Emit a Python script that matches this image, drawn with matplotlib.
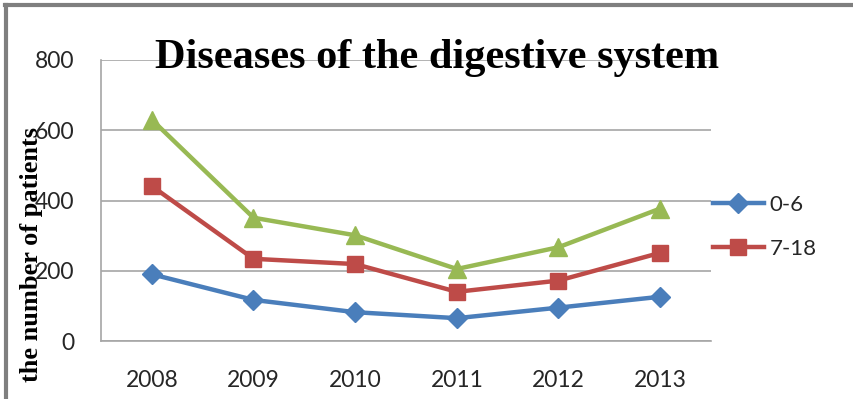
import matplotlib
matplotlib.use("Agg")
import matplotlib.pyplot as plt
from matplotlib.lines import Line2D

# Patients with diseases of the digestive system, by age group
years = ["2008", "2009", "2010", "2011", "2012", "2013"]
age_0_6 = [190, 117, 82, 65, 95, 126]
age_7_18 = [441, 234, 219, 140, 172, 251]
all_ages = [630, 351, 301, 205, 267, 377]
y_ticks = [0, 200, 400, 600, 800]

BLUE = "#4A7EBB"
RED = "#BE4B48"
GREEN = "#98B954"
GRID = "#A6A6A6"
TEXT = "#262626"
SANS = ["Lato", "DejaVu Sans"]
SERIF = ["Liberation Serif", "DejaVu Serif"]

W, H = 854, 399
fig = plt.figure(figsize=(W / 100, H / 100), dpi=100)
fig.patch.set_facecolor("white")

ax = fig.add_axes([101 / W, 1 - 341 / H, 610 / W, 281 / H])
x = list(range(len(years)))

ax.plot(x, age_0_6, color=BLUE, lw=3.2, marker="D", ms=10,
        label="0-6", zorder=3, solid_joinstyle="round")
ax.plot(x, age_7_18, color=RED, lw=3.2, marker="s", ms=12,
        label="7-18", zorder=3, solid_joinstyle="round")
ax.plot(x, all_ages, color=GREEN, lw=3.2, marker="^", ms=13,
        zorder=3, solid_joinstyle="round")

ax.set_xlim(-0.5, len(years) - 0.5)
ax.set_ylim(0, 800)
ax.set_yticks(y_ticks)
ax.set_xticks(x)
ax.set_xticklabels(years)

for lab in ax.get_xticklabels() + ax.get_yticklabels():
    lab.set_fontfamily(SANS)
    lab.set_fontsize(16.5)
    lab.set_color(TEXT)
ax.tick_params(axis="x", length=0, pad=21)
ax.tick_params(axis="y", length=0, pad=19)

ax.grid(axis="y", color=GRID, lw=1.2, zorder=0)
for side in ("top", "right"):
    ax.spines[side].set_visible(False)
for side in ("left", "bottom"):
    ax.spines[side].set_color(GRID)
    ax.spines[side].set_linewidth(1.2)

handles, labels = ax.get_legend_handles_labels()
leg = fig.legend(handles, labels, loc="upper left",
                 bbox_to_anchor=(704 / W, 1 - 186 / H),
                 borderaxespad=0, frameon=False,
                 handlelength=2.3, handletextpad=0.25,
                 labelspacing=1.08,
                 prop=dict(family=SANS, size=16))
for t in leg.get_texts():
    t.set_color(TEXT)

fig.text(437 / W, 1 - 68 / H, "Diseases of the digestive system",
         ha="center", va="baseline", fontsize=30.5, fontweight="bold",
         family=SERIF, color="black")

fig.text(32 / W, 1 - 255 / H, "the number of patients", rotation=90,
         ha="center", va="center", fontsize=19, fontweight="bold",
         family=SERIF, color="black")

# outer chart frame (top and left edges)
fig.add_artist(Line2D([6.5 / W, 6.5 / W], [0, 1 - 5 / H],
                      transform=fig.transFigure, color="#7F7F7F", lw=3))
fig.add_artist(Line2D([5 / W, 1], [1 - 5 / H, 1 - 5 / H],
                      transform=fig.transFigure, color="#7F7F7F", lw=3))

fig.savefig("out.png", dpi=100, facecolor="white")
